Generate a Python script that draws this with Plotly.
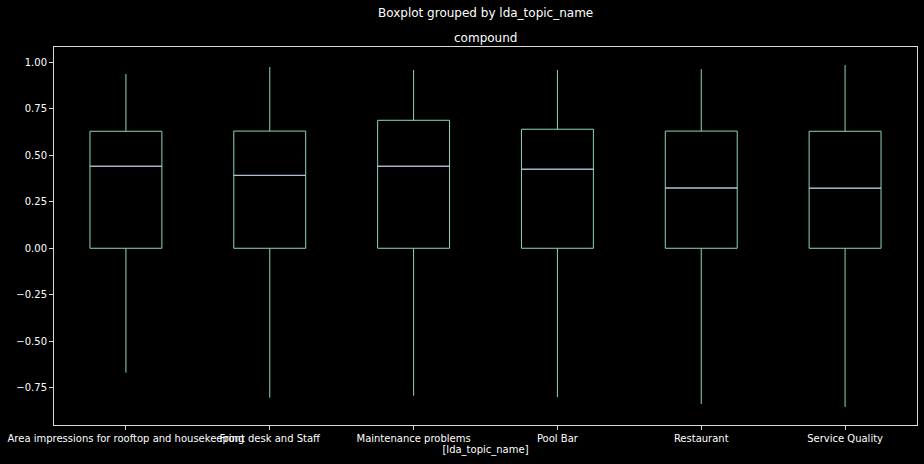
import plotly.graph_objects as go

categories = ["Area impressions for rooftop and housekeeping", "Front desk and Staff",
              "Maintenance problems", "Pool Bar", "Restaurant", "Service Quality"]
q1 = [0.0, 0.0, 0.0, 0.0, 0.0, 0.0]
median = [0.441, 0.392, 0.441, 0.425, 0.324, 0.323]
q3 = [0.629, 0.630, 0.688, 0.640, 0.630, 0.629]
lower_whisker = [-0.669, -0.803, -0.792, -0.800, -0.837, -0.853]
upper_whisker = [0.937, 0.974, 0.958, 0.958, 0.963, 0.985]

BOX_COLOR = "#8dd3c7"
MEDIAN_COLOR = "#bebada"
FG = "#d9d9d9"
FONT = "DejaVu Sans"

positions = list(range(1, len(categories) + 1))
half_w = 0.25

fig = go.Figure()
fig.add_trace(go.Box(
    x=positions, q1=q1, median=median, q3=q3,
    lowerfence=lower_whisker, upperfence=upper_whisker,
    width=2 * half_w, line=dict(color=BOX_COLOR, width=1),
    fillcolor="rgba(0,0,0,0)", whiskerwidth=0, boxpoints=False,
    hoverinfo="skip", showlegend=False,
))

mx, my = [], []
for p, m in zip(positions, median):
    mx += [p - half_w, p + half_w, None]
    my += [m, m, None]
fig.add_trace(go.Scatter(x=mx, y=my, mode="lines",
                         line=dict(color=MEDIAN_COLOR, width=1),
                         hoverinfo="skip", showlegend=False))

fig.update_layout(
    width=924, height=464,
    margin=dict(l=54, r=7, t=47, b=39),
    paper_bgcolor="black", plot_bgcolor="black",
    font=dict(family=FONT, size=10, color="white"),
)
fig.add_annotation(text="Boxplot grouped by lda_topic_name", xref="paper", yref="paper",
                   x=0.5, y=1.0, yanchor="middle", yshift=34, showarrow=False,
                   font=dict(size=12, color="white"))
fig.add_annotation(text="compound", xref="paper", yref="paper",
                   x=0.5, y=1.0, yanchor="middle", yshift=9, showarrow=False,
                   font=dict(size=12, color="white"))

fig.update_xaxes(
    range=[0.5, len(categories) + 0.5], tickmode="array", tickvals=positions,
    ticktext=categories, tickangle=0, showgrid=False, zeroline=False,
    showline=True, mirror=True, linecolor=FG, linewidth=1,
    ticks="outside", ticklen=4, tickcolor=FG,
    title=dict(text="[lda_topic_name]", font=dict(size=10, color="white"), standoff=2),
)
fig.update_yaxes(
    range=[-0.95, 1.082], tickmode="array",
    tickvals=[-0.75, -0.5, -0.25, 0, 0.25, 0.5, 0.75, 1.0],
    ticktext=["−0.75", "−0.50", "−0.25", "0.00", "0.25", "0.50", "0.75", "1.00"],
    showgrid=False, zeroline=False,
    showline=True, mirror=True, linecolor=FG, linewidth=1,
    ticks="outside", ticklen=4, tickcolor=FG,
)

fig.write_html("out.html")
